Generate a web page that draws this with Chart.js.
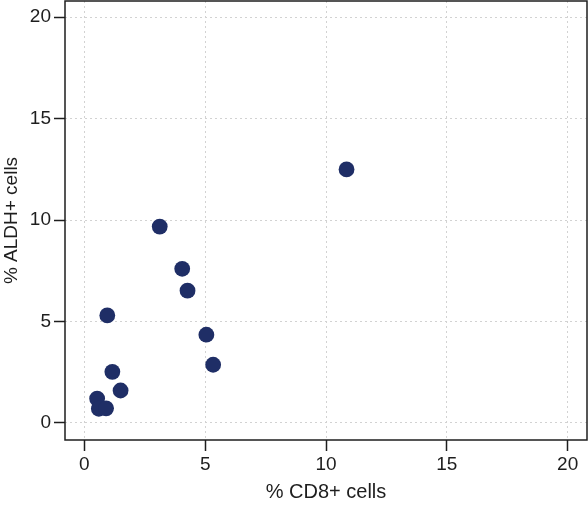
<!DOCTYPE html>
<html>
<head>
<meta charset="utf-8">
<script src="https://cdn.jsdelivr.net/npm/chart.js@4.4.1/dist/chart.umd.min.js"></script>
<style>
html,body{margin:0;padding:0;background:#fff;}
#wrap{width:588px;height:505px;position:relative;}
</style>
</head>
<body>
<div id="wrap"><canvas id="c"></canvas></div>
<script>
// values
const cd8 = [10.85, 3.12, 4.05, 4.27, 0.95, 5.05, 5.33, 1.16, 1.5, 0.53, 0.6, 0.9];
const aldh = [12.5, 9.68, 7.6, 6.52, 5.3, 4.35, 2.87, 2.52, 1.6, 1.2, 0.7, 0.72];
const xTicks = [0, 5, 10, 15, 20];
const yTicks = [0, 5, 10, 15, 20];

const pts = cd8.map((x,i)=>({x, y: aldh[i]}));
const font = "'Liberation Sans', Arial, Helvetica, sans-serif";
const ink = '#1e1e1e';

// full box round the plot area
const boxPlugin = {
  id:'box',
  afterDraw(chart){
    const a=chart.chartArea, ctx=chart.ctx;
    ctx.save();
    ctx.strokeStyle=ink; ctx.lineWidth=1.5;
    ctx.strokeRect(a.left, a.top, a.right-a.left, a.bottom-a.top);
    ctx.restore();
  }
};

function axisGrid(){
  return {
    color:'#d2d2d2', lineWidth:1,
    drawTicks:true, tickLength:11, tickColor:ink, tickWidth:1.5, tickBorderDash:[]
  };
}

new Chart(document.getElementById('c'),{
  type:'scatter',
  data:{datasets:[{
    data:pts,
    backgroundColor:'#1f2e66', borderColor:'#1f2e66',
    pointRadius:7.9, pointHoverRadius:7.9, borderWidth:0
  }]},
  options:{
    responsive:true, maintainAspectRatio:false, animation:false,
    layout:{autoPadding:false, padding:{top:1,right:1,left:0,bottom:0}},
    plugins:{legend:{display:false},tooltip:{enabled:false}},
    scales:{
      x:{
        type:'linear', min:-0.8, max:20.8,
        afterBuildTicks:s=>{s.ticks=xTicks.map(v=>({value:v}));},
        afterFit:s=>{s.height=65; s.paddingLeft=0; s.paddingRight=0;},
        grid:axisGrid(),
        border:{display:false, dash:[2,3]},
        ticks:{color:ink,font:{family:font,size:19},padding:2,maxRotation:0},
        title:{display:true,text:'% CD8+ cells',color:ink,font:{family:font,size:20},padding:{top:0,bottom:1}}
      },
      y:{
        type:'linear', min:-0.84, max:20.8,
        afterBuildTicks:s=>{s.ticks=yTicks.map(v=>({value:v}));},
        afterFit:s=>{s.width=65; s.paddingTop=0; s.paddingBottom=0;},
        grid:axisGrid(),
        border:{display:false, dash:[2,3]},
        ticks:{color:ink,font:{family:font,size:19},padding:3},
        title:{display:true,text:'% ALDH+ cells',color:ink,font:{family:font,size:19},padding:{top:0,bottom:0}}
      }
    }
  },
  plugins:[boxPlugin]
});
</script>
</body>
</html>
